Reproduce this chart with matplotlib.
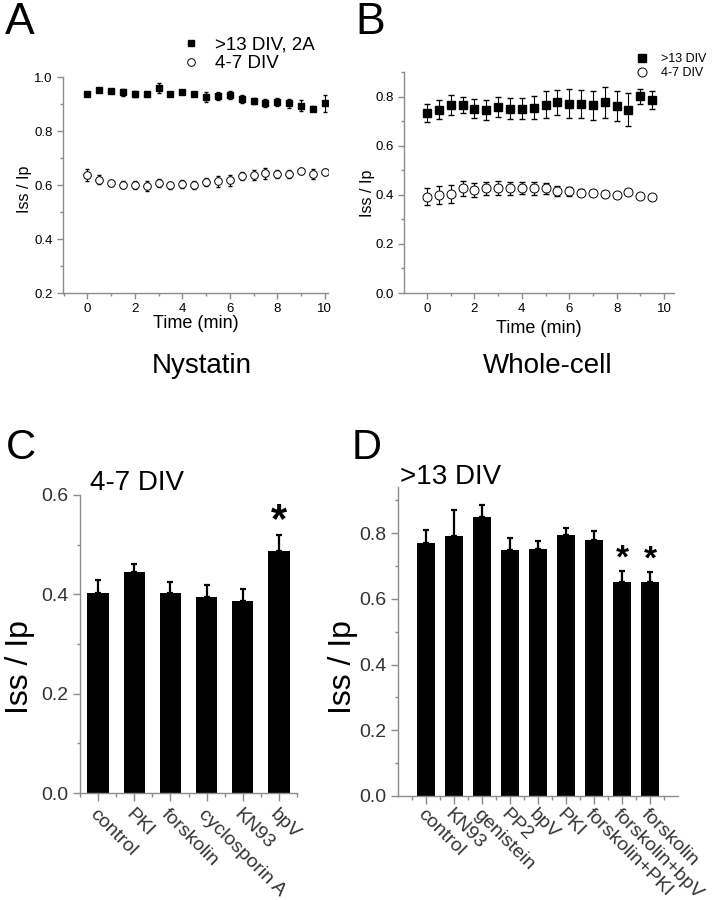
import matplotlib
matplotlib.use("Agg")
import matplotlib.pyplot as plt
import numpy as np
from matplotlib.ticker import MultipleLocator, FixedLocator

plt.rcParams["font.family"] = ["Liberation Sans", "DejaVu Sans"]

# ---- data ----
# A: nystatin
time_a = [0, 0.5, 1, 1.5, 2, 2.5, 3, 3.5, 4, 4.5, 5, 5.5, 6, 6.5, 7, 7.5, 8, 8.5, 9, 9.5, 10]
old_a = [0.938, 0.952, 0.947, 0.943, 0.937, 0.936, 0.959, 0.936, 0.944, 0.936, 0.926,
         0.928, 0.932, 0.920, 0.911, 0.904, 0.906, 0.902, 0.894, 0.883, 0.902]
old_a_err = [0.008, 0.006, 0.007, 0.012, 0.010, 0.006, 0.020, 0.007, 0.006, 0.008, 0.020,
             0.015, 0.015, 0.015, 0.012, 0.015, 0.015, 0.018, 0.020, 0.008, 0.030]
young_a = [0.636, 0.620, 0.607, 0.601, 0.600, 0.596, 0.608, 0.599, 0.605, 0.601, 0.610,
           0.613, 0.618, 0.632, 0.636, 0.644, 0.642, 0.641, 0.651, 0.641, 0.648]
young_a_err = [0.022, 0.018, 0.012, 0.012, 0.015, 0.018, 0.015, 0.012, 0.015, 0.015, 0.015,
               0.020, 0.020, 0.015, 0.018, 0.020, 0.015, 0.015, 0.012, 0.018, 0.012]

# B: whole-cell
time_b = [0, 0.5, 1, 1.5, 2, 2.5, 3, 3.5, 4, 4.5, 5, 5.5, 6, 6.5, 7, 7.5, 8, 8.5, 9, 9.5]
old_b = [0.734, 0.747, 0.766, 0.764, 0.750, 0.745, 0.757, 0.751, 0.751, 0.755,
         0.766, 0.776, 0.770, 0.770, 0.765, 0.776, 0.762, 0.747, 0.801, 0.785]
old_b_err = [0.036, 0.039, 0.042, 0.033, 0.039, 0.039, 0.042, 0.042, 0.044, 0.046,
             0.055, 0.051, 0.059, 0.057, 0.059, 0.063, 0.062, 0.067, 0.030, 0.037]
young_b = [0.392, 0.399, 0.403, 0.426, 0.419, 0.426, 0.428, 0.426, 0.428, 0.426,
           0.426, 0.415, 0.415, 0.409, 0.409, 0.405, 0.401, 0.413, 0.395, 0.392]
young_b_err = [0.034, 0.037, 0.036, 0.030, 0.027, 0.027, 0.027, 0.028, 0.026, 0.026,
               0.023, 0.020, 0.018, 0.016, 0.012, 0.010, 0.012, 0.010, 0.010, 0.008]

# C: 4-7 DIV
drugs_c = ["control", "PKI", "forskolin", "cyclosporin A", "KN93", "bpV"]
ratio_c = [0.403, 0.444, 0.402, 0.395, 0.387, 0.487]
ratio_c_err = [0.026, 0.017, 0.023, 0.023, 0.023, 0.032]
signif_c = [False, False, False, False, False, True]

# D: >13 DIV
drugs_d = ["control", "KN93", "genistein", "PP2", "bpV", "PKI",
           "forskolin+PKI", "forskolin+bpV", "forskolin"]
ratio_d = [0.769, 0.792, 0.850, 0.749, 0.750, 0.795, 0.780, 0.651, 0.651]
ratio_d_err = [0.041, 0.079, 0.034, 0.035, 0.026, 0.020, 0.027, 0.032, 0.031]
signif_d = [False, False, False, False, False, False, False, True, True]

W, H = 712, 900
spine_col = "#8c8c8c"


def style_axes(ax, labelsize, labelcolor="black"):
    for side in ["top", "right"]:
        ax.spines[side].set_visible(False)
    for side in ["left", "bottom"]:
        ax.spines[side].set_color(spine_col)
        ax.spines[side].set_linewidth(1.0)
    ax.tick_params(which="both", direction="out", color=spine_col, width=1.0,
                   labelsize=labelsize, labelcolor=labelcolor)
    ax.tick_params(which="major", length=4)
    ax.tick_params(which="minor", length=2)


def px_axes(left, top, right, bottom):
    return [left / W, 1 - bottom / H, (right - left) / W, (bottom - top) / H]


fig = plt.figure(figsize=(7.12, 9), dpi=100)

# ---- A ----
axA = fig.add_axes(px_axes(63, 77, 328, 293))
axA.errorbar(time_a, old_a, yerr=old_a_err, fmt="none", ecolor="black", elinewidth=0.8, capsize=1.5)
axA.errorbar(time_a, young_a, yerr=young_a_err, fmt="none", ecolor="black", elinewidth=0.8, capsize=1.5)
axA.plot(time_a, old_a, "s", color="black", ms=5, label=">13 DIV, 2A")
axA.plot(time_a, young_a, "o", mfc="white", mec="black", mew=0.7, ms=5.5, label="4-7 DIV")
axA.set_xlim(-1.03, 10.14)
axA.set_ylim(0.2, 1.0)
axA.xaxis.set_major_locator(MultipleLocator(2))
axA.xaxis.set_minor_locator(MultipleLocator(1))
axA.yaxis.set_major_locator(MultipleLocator(0.2))
axA.yaxis.set_minor_locator(MultipleLocator(0.1))
axA.yaxis.set_major_formatter(plt.FormatStrFormatter("%.1f"))
style_axes(axA, 9.5)
axA.set_xlabel("Time (min)", fontsize=13)
axA.set_ylabel("Iss / Ip", fontsize=11.5)
axA.xaxis.set_label_coords(0.5, -0.1)
axA.yaxis.set_label_coords(-0.117, 0.48)
axA.legend(loc="upper left", bbox_to_anchor=(0.4475, 1.19), frameon=False, fontsize=13.5,
           borderpad=0, handlelength=1.0, handletextpad=0.78, labelspacing=0.1,
           borderaxespad=0)

# ---- B ----
axB = fig.add_axes(px_axes(404, 72, 674, 293))
axB.errorbar(time_b, old_b, yerr=old_b_err, fmt="none", ecolor="black", elinewidth=0.8, capsize=2)
axB.errorbar(time_b, young_b, yerr=young_b_err, fmt="none", ecolor="black", elinewidth=0.8, capsize=2)
axB.plot(time_b, old_b, "s", color="black", ms=6, label=">13 DIV")
axB.plot(time_b, young_b, "o", mfc="white", mec="black", mew=0.7, ms=6.5, label="4-7 DIV")
axB.set_xlim(-0.97, 10.42)
axB.set_ylim(0.0, 0.9)
axB.xaxis.set_major_locator(MultipleLocator(2))
axB.xaxis.set_minor_locator(MultipleLocator(1))
axB.yaxis.set_major_locator(FixedLocator([0, 0.2, 0.4, 0.6, 0.8]))
axB.yaxis.set_minor_locator(FixedLocator([0.1, 0.3, 0.5, 0.7, 0.9]))
axB.yaxis.set_major_formatter(plt.FormatStrFormatter("%.1f"))
style_axes(axB, 9.5)
axB.set_xlabel("Time (min)", fontsize=13)
axB.set_ylabel("Iss / Ip", fontsize=11.5)
axB.xaxis.set_label_coords(0.5, -0.122)
axB.yaxis.set_label_coords(-0.109, 0.452)
axB.legend(loc="upper left", bbox_to_anchor=(0.86, 1.085), frameon=False, fontsize=9,
           borderpad=0, handlelength=1.0, handletextpad=1.0, labelspacing=0.15,
           borderaxespad=0)

fig.text(202 / W, 1 - 366 / H, "Nystatin", fontsize=20, ha="center", va="center")
fig.text(548 / W, 1 - 366 / H, "Whole-cell", fontsize=20, ha="center", va="center")


def bar_panel(ax, names, vals, errs, stars, width, label_size, star_size, star_shift):
    x = np.arange(len(names))
    ax.bar(x, vals, width=width, color="black", zorder=2)
    ax.errorbar(x, vals, yerr=[np.zeros(len(errs)), errs], fmt="none", ecolor="black",
                elinewidth=1.6, capsize=2.5, capthick=1.6, zorder=3)
    for xi, v, e, s in zip(x, vals, errs, stars):
        if s:
            ax.annotate("*", xy=(xi, v + e), xytext=(0, star_shift), textcoords="offset points",
                        ha="center", va="bottom", fontsize=star_size, fontweight="bold")
    ax.set_xticks(x)
    ax.set_xticks(np.arange(len(names) + 1) - 0.5, minor=True)
    ax.set_xticklabels(names, rotation=-45, ha="left", va="top", rotation_mode="anchor",
                       fontsize=label_size)
    ax.yaxis.set_major_locator(MultipleLocator(0.2))
    ax.yaxis.set_minor_locator(MultipleLocator(0.1))
    ax.yaxis.set_major_formatter(plt.FormatStrFormatter("%.1f"))


# ---- C ----
axC = fig.add_axes(px_axes(80, 495, 297, 793))
bar_panel(axC, drugs_c, ratio_c, ratio_c_err, signif_c, 0.59, 15.5, 30, -4.5)
axC.set_xlim(-0.5, 5.5)
axC.set_ylim(0, 0.6)
style_axes(axC, 14, "#333333")
axC.tick_params(axis="x", which="major", length=6, pad=3)
axC.tick_params(axis="x", which="minor", length=3)
axC.tick_params(axis="y", which="major", length=5)
axC.set_ylabel("Iss / Ip", fontsize=23)
axC.yaxis.set_label_coords(-0.207, 0.422)
axC.text(0.046, 1.017, "4-7 DIV", transform=axC.transAxes, fontsize=20,
         ha="left", va="baseline")

# ---- D ----
axD = fig.add_axes(px_axes(398, 487, 678, 796))
bar_panel(axD, drugs_d, ratio_d, ratio_d_err, signif_d, 0.63, 12, 24, -2.5)
axD.set_xlim(-1, 9)
axD.set_ylim(0, 0.94)
style_axes(axD, 14, "#333333")
axD.tick_params(axis="x", which="major", length=6, pad=1)
axD.tick_params(axis="x", which="minor", length=3)
axD.tick_params(axis="y", which="major", length=5)
axD.set_ylabel("Iss / Ip", fontsize=23)
axD.yaxis.set_label_coords(-0.143, 0.417)
axD.text(0.007, 1.01, ">13 DIV", transform=axD.transAxes, fontsize=20,
         ha="left", va="baseline")

# panel letters
for letter, (px, py), size in [("A", (5, 2), 32), ("B", (355, 2), 32),
                               ("C", (6, 428), 30), ("D", (352, 428), 30)]:
    fig.text(px / W, 1 - py / H, letter, fontsize=size, ha="left", va="top")

fig.savefig("out.png", dpi=100)
